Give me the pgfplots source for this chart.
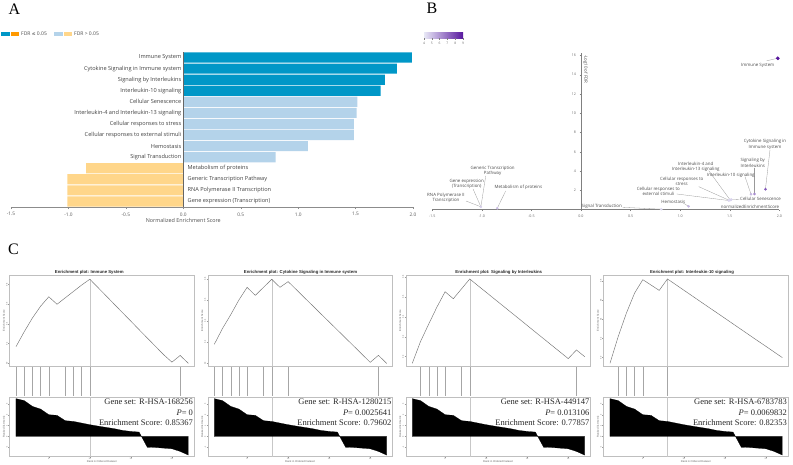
\documentclass[border=0pt]{standalone}
\usepackage{pgfplots}
\pgfplotsset{compat=1.18}
\usepackage{pgfplotstable}
\usepackage{fontspec}
\setmainfont{Liberation Serif}
\newfontfamily\osans{Open Sans}
\newfontfamily\lsans{Liberation Sans}
\newfontfamily\dv{DejaVu Sans}
\newcommand\fs[1]{\fontsize{#1}{#1}\selectfont}
\definecolor{dblue}{RGB}{0,151,199}
\definecolor{lblue}{RGB}{180,211,234}
\definecolor{lorange}{RGB}{255,214,138}
\definecolor{dorange}{RGB}{255,153,0}
\definecolor{cbl}{RGB}{232,232,246}
\definecolor{cbr}{RGB}{88,24,158}

\pgfplotstableread{
rank metric
1 3.48
2 3.30
3 2.77
4 2.52
5 2.00
6 1.94
7 1.45
8 1.38
9 1.23
10 1.08
11 0.95
12 0.83
13 0.71
14 0.55
15 0.46
16 0.40
17 -1.00
18 -1.02
19 -1.08
20 -1.14
21 -1.38
22 -1.72
}\metrictab

\pgfplotstableread{
x y m
1.985 15.7 9
1.86 2.12 7.4
1.75 1.63 6.2
1.715 1.60 5.2
1.515 1.05 4.5
1.51 1.00 4.5
1.495 0.97 4.4
1.49 0.95 4.4
1.085 0.35 5.2
0.81 0.05 4.3
-0.845 0.15 5.0
-1.01 0.30 4.6
}\btab

\pgfplotsset{
 gseabase/.style={at={(0,0)}, anchor=south west, scale only axis, width=184.7pt, xmin=0.2, xmax=22.7,
   axis line style={black!25, line width=0.4pt}, tick style={black!40, line width=0.3pt},
   major tick length=1pt, tick align=outside,
   tick label style={font=\lsans\fs{2.2}, text=black!55, inner sep=0.5pt},
   label style={font=\lsans\fs{2.7}, text=black!60, inner sep=0.6pt},
   /pgf/number format/assume math mode=true},
 gseatop/.style={gseabase, height=90.7pt, xtick=\empty, ytick={0,0.2,0.4,0.6,0.8},
   yticklabel style={rotate=90, anchor=south, /pgf/number format/.cd, fixed, fixed zerofill, precision=1},
   ylabel={Enrichment Score}, ytick pos=left},
 gseamid/.style={gseabase, height=28.4pt, ymin=0, ymax=1, hide axis},
 gseabot/.style={gseabase, height=59.5pt, ymin=-1.85, ymax=3.63, xtick={5,10,15,20}, ytick={-1,0,1,2,3},
   yticklabel style={rotate=90, anchor=south}, ylabel={Ranked list metric},
   xlabel={Rank in Ordered Dataset}, xtick pos=bottom, ytick pos=left,
   xlabel style={at={(rel axis cs:0.5,0)}, anchor=north, yshift=-3.6pt}},
}

% #1 xleft, #2 title x, #3 title, #4 ES coords, #5 hits, #6 peak rank, #7 peak ES, #8 ymin, #9 ymax
\newcommand\gsea[9]{%
 \node[font=\lsans\bfseries\fs{4.3}, text=black!85] at (#2,192) {#3};
 \begin{scope}[shift={(#1,98)}]
 \begin{axis}[gseatop, ymin=#8, ymax=#9]
  \addplot[black!22, line width=0.4pt] coordinates {(#6,#8) (#6,#7)};
  \addplot[black!55, line width=0.45pt] coordinates {#4};
 \end{axis}
 \end{scope}
 \begin{scope}[shift={(#1,68.3)}]
 \begin{axis}[gseamid]
  \addplot[ycomb, black!35, line width=0.35pt, mark=none] coordinates {#5};
 \end{axis}
 \end{scope}
 \begin{scope}[shift={(#1,7.5)}]
 \begin{axis}[gseabot]
  \addplot[black!22, line width=0.4pt] coordinates {(#6,-1.85) (#6,3.63)};
  \addplot[fill=black, draw=black, line width=0.2pt] table[x=rank, y=metric] {\metrictab} \closedcycle;
  \node[anchor=east, font=\fs{8.5}, text=black!85, inner sep=0] at (rel axis cs:0.995,0.915) {Gene set: \gset};
  \node[anchor=east, font=\fs{8.5}, text=black!85, inner sep=0] at (rel axis cs:0.995,0.742) {\textit{P}= \gp};
  \node[anchor=east, font=\fs{8.5}, text=black!85, inner sep=0] at (rel axis cs:0.995,0.572) {Enrichment Score: \ges};
 \end{axis}
 \end{scope}}

\begin{document}
\begin{tikzpicture}[x=1pt,y=1pt]

\node[font=\fs{16}] at (14.5,455) {A};
\node[font=\fs{16}] at (432,455.5) {B};
\node[font=\fs{16}] at (13.5,215) {C};

% ---------- Panel A ----------
\fill[dblue] (0.7,427.9) rectangle (10,432.2);
\fill[dorange] (10.7,427.9) rectangle (19.3,432.2);
\node[anchor=west, font=\osans\fs{5}, text=black!70, inner sep=0] at (21,430) {FDR {\dv\fs{4.6}≤} 0.05};
\fill[lblue] (54.3,427.9) rectangle (63.3,432.2);
\fill[lorange] (63.6,427.9) rectangle (72.3,432.2);
\node[anchor=west, font=\osans\fs{5}, text=black!70, inner sep=0] at (74,430) {FDR > 0.05};

\begin{scope}[shift={(11,257)}]
\begin{axis}[at={(0,0)}, anchor=south west, scale only axis, width=402pt, height=155pt,
  xmin=-1.5, xmax=2, ymin=0.5, ymax=14.5,
  axis x line*=bottom, axis y line=none, xbar, bar width=10.2pt,
  xtick={-1.5,-1,-0.5,0,0.5,1,1.5,2}, ytick=\empty,
  /pgf/number format/assume math mode=true,
  xticklabel style={/pgf/number format/.cd, fixed, fixed zerofill, precision=1, /tikz/.cd, font=\osans\fs{4.8}, text=black!65},
  axis line style={black!45, line width=0.4pt}, tick style={black!45, line width=0.4pt},
  major tick length=2pt, tick align=outside, clip=false]
 \addplot[fill=dblue, draw=none, bar shift=0pt] coordinates {(1.99,14) (1.86,13) (1.755,12) (1.718,11)};
 \addplot[fill=lblue, draw=none, bar shift=0pt] coordinates {(1.515,10) (1.51,9) (1.485,8) (1.485,7) (1.085,6) (0.805,5)};
 \addplot[fill=lorange, draw=none, bar shift=0pt] coordinates {(-0.845,4) (-1.01,3) (-1.01,2) (-1.01,1)};
 \draw[black!60, line width=0.4pt] (axis cs:0,0.5) -- (axis cs:0,14.5);
 \begin{scope}[every node/.style={font=\osans\fs{5.6}, text=black!75, inner sep=0}]
 \node[anchor=east, xshift=-1.8pt] at (axis cs:0,14) {Immune System};
 \node[anchor=east, xshift=-1.8pt] at (axis cs:0,13) {Cytokine Signaling in Immune system};
 \node[anchor=east, xshift=-1.8pt] at (axis cs:0,12) {Signaling by Interleukins};
 \node[anchor=east, xshift=-1.8pt] at (axis cs:0,11) {Interleukin-10 signaling};
 \node[anchor=east, xshift=-1.8pt] at (axis cs:0,10) {Cellular Senescence};
 \node[anchor=east, xshift=-1.8pt] at (axis cs:0,9) {Interleukin-4 and Interleukin-13 signaling};
 \node[anchor=east, xshift=-1.8pt] at (axis cs:0,8) {Cellular responses to stress};
 \node[anchor=east, xshift=-1.8pt] at (axis cs:0,7) {Cellular responses to external stimuli};
 \node[anchor=east, xshift=-1.8pt] at (axis cs:0,6) {Hemostasis};
 \node[anchor=east, xshift=-1.8pt] at (axis cs:0,5) {Signal Transduction};
 \node[anchor=west, xshift=4.2pt] at (axis cs:0,4) {Metabolism of proteins};
 \node[anchor=west, xshift=4.2pt] at (axis cs:0,3) {Generic Transcription Pathway};
 \node[anchor=west, xshift=4.2pt] at (axis cs:0,2) {RNA Polymerase II Transcription};
 \node[anchor=west, xshift=4.2pt] at (axis cs:0,1) {Gene expression (Transcription)};
 \end{scope}
 \node[font=\osans\fs{5.4}, text=black!70, yshift=-13pt] at (axis cs:0,0.5) {Normalized Enrichment Score};
\end{axis}
\end{scope}

% ---------- Panel B ----------
\shade[left color=cbl, right color=cbr] (424,425.7) rectangle (463,431.7);
\foreach \v [count=\i from 0] in {4,...,9} {
  \draw[black!50, line width=0.3pt] ({424+\i*7.8},425.7) -- ({424+\i*7.8},424.2);
  \node[font=\osans\fs{3.3}, text=black!60, inner sep=0] at ({424+\i*7.8},420.2) {\v};
}

\begin{scope}[shift={(432.3,254.3)}]
\begin{axis}[at={(0,0)}, anchor=south west, scale only axis, width=347pt, height=156.7pt,
  xmin=-1.5, xmax=2, ymin=0, ymax=16.25,
  axis x line=bottom, axis y line=middle, hide obscured x ticks=false,
  every inner x axis line/.append style={-}, every inner y axis line/.append style={-},
  every outer x axis line/.append style={-}, axis line style={black!50, line width=0.4pt},
  xtick={-1.5,-1,-0.5,0,0.5,1,1.5,2}, ytick={2,4,6,8,10,12,14,16},
  /pgf/number format/assume math mode=true,
  tick label style={font=\osans\fs{3.6}, text=black!60},
  xticklabel style={/pgf/number format/.cd, fixed, fixed zerofill, precision=1},
  tick style={black!50, line width=0.3pt}, major tick length=1.5pt, tick align=outside,
  colormap={purp}{rgb255=(232,232,246) rgb255=(88,24,158)}, point meta min=4, point meta max=9,
  clip=false]
 \begin{scope}[black!40, line width=0.3pt]
 \draw (axis cs:1.98,15.7) -- (axis cs:1.873,15.44);
 \draw (axis cs:1.906,6.2) -- (axis cs:1.86,2.12);
 \draw (axis cs:1.75,4.36) -- (axis cs:1.75,1.63);
 \draw (axis cs:1.654,3.43) -- (axis cs:1.715,1.6);
 \draw (axis cs:1.288,4.05) -- (axis cs:1.505,1.0);
 \draw (axis cs:1.187,2.39) -- (axis cs:1.495,0.97);
 \draw (axis cs:0.965,1.63) -- (axis cs:1.49,0.95);
 \draw (axis cs:1.515,1.05) -- (axis cs:1.598,1.08);
 \draw (axis cs:1.03,0.7) -- (axis cs:1.085,0.35);
 \draw (axis cs:0.42,0.25) -- (axis cs:0.81,0.05);
 \draw (axis cs:-0.76,1.94) -- (axis cs:-0.845,0.15);
 \draw (axis cs:-0.961,3.5) -- (axis cs:-1.01,0.3);
 \draw (axis cs:-1.089,2.15) -- (axis cs:-1.01,0.3);
 \draw (axis cs:-1.16,0.9) -- (axis cs:-1.01,0.3);
 \end{scope}
 \addplot[scatter, only marks, mark=*, mark size=1.1pt, point meta=explicit,
   scatter/use mapped color={draw=mapped color, fill=mapped color}]
   table[x=x, y=y, meta=m] {\btab};
 \addplot[scatter, only marks, mark=*, mark size=1.6pt, point meta=explicit,
   scatter/use mapped color={draw=mapped color, fill=mapped color}]
   coordinates {(1.985,15.7) [9]};
 \begin{scope}[every node/.style={font=\osans\fontsize{4.4}{5.2}\selectfont, text=black!70, inner sep=0, align=center}]
 \node at (axis cs:1.782,14.95) {Immune System};
 \node at (axis cs:1.856,6.77) {Cytokine Signaling in\\Immune system};
 \node at (axis cs:1.732,4.85) {Signaling by\\Interleukins};
 \node at (axis cs:1.51,3.57) {Interleukin-10 signaling};
 \node at (axis cs:1.157,4.47) {Interleukin-4 and\\Interleukin-13 signaling};
 \node at (axis cs:1.016,2.91) {Cellular responses to\\stress};
 \node at (axis cs:0.78,1.87) {Cellular responses to\\external stimuli};
 \node[anchor=west] at (axis cs:1.604,1.08) {Cellular Senescence};
 \node at (axis cs:0.931,0.8) {Hemostasis};
 \node at (axis cs:0.209,0.31) {Signal Transduction};
 \node at (axis cs:-0.632,2.36) {Metabolism of proteins};
 \node at (axis cs:-0.891,4.0) {Generic Transcription\\Pathway};
 \node at (axis cs:-1.153,2.67) {Gene expression\\(Transcription)};
 \node at (axis cs:-1.362,1.21) {RNA Polymerase II\\Transcription};
 \node[anchor=south east, yshift=1.2pt] at (axis cs:2.0,0) {normalizedEnrichmentScore};
 \node[rotate=-90, anchor=west] at (axis cs:0.045,16.06) {-Log10 of FDR};
 \end{scope}
\end{axis}
\end{scope}

% ---------- Panel C ----------
\def\gset{R-HSA-168256}\def\gp{0}\def\ges{0.85367}
\gsea{9.4}{89.3}{Enrichment plot: Immune System}
 {(1,0.169)(2,0.32)(3,0.46)(4,0.58)(5,0.676)(6,0.60)(7,0.665)(8,0.73)(9,0.795)(10,0.854)(11,0.769)(12,0.684)(13,0.598)(14,0.513)(15,0.428)(16,0.342)(17,0.257)(18,0.172)(19,0.087)(20,0.012)(21,0.08)(22,0)}
 {(1,1)(2,1)(3,1)(4,1)(5,1)(7,1)(8,1)(9,1)(10,1)(21,1)}
 {10}{0.854}{-0.027}{0.894}

\def\gset{R-HSA-1280215}\def\gp{0.0025641}\def\ges{0.79602}
\gsea{207.7}{300.5}{Enrichment plot: Cytokine Signaling in Immune system}
 {(1,0.18)(2,0.33)(3,0.46)(4,0.60)(5,0.72)(6,0.644)(7,0.72)(8,0.796)(9,0.72)(10,0.774)(11,0.698)(12,0.621)(13,0.545)(14,0.468)(15,0.392)(16,0.316)(17,0.239)(18,0.163)(19,0.086)(20,0.01)(21,0.076)(22,0)}
 {(1,1)(2,1)(3,1)(4,1)(5,1)(7,1)(8,1)(10,1)(21,1)}
 {8}{0.796}{-0.025}{0.834}

\def\gset{R-HSA-449147}\def\gp{0.013106}\def\ges{0.77857}
\gsea{405.7}{498.8}{Enrichment plot: Signaling by Interleukins}
 {(1,-0.067)(2,0.151)(3,0.326)(4,0.497)(5,0.651)(6,0.581)(7,0.68)(8,0.779)(9,0.712)(10,0.646)(11,0.579)(12,0.513)(13,0.446)(14,0.38)(15,0.313)(16,0.246)(17,0.18)(18,0.113)(19,0.047)(20,-0.02)(21,0.067)(22,0)}
 {(2,1)(3,1)(4,1)(5,1)(7,1)(8,1)(21,1)}
 {8}{0.779}{-0.094}{0.816}

\def\gset{R-HSA-6783783}\def\gp{0.0069832}\def\ges{0.82353}
\gsea{603.4}{692}{Enrichment plot: Interleukin-10 signaling}
 {(1,-0.06)(2,0.22)(3,0.466)(4,0.676)(5,0.816)(6,0.76)(7,0.704)(8,0.8235)(9,0.765)(10,0.706)(11,0.647)(12,0.588)(13,0.529)(14,0.471)(15,0.412)(16,0.353)(17,0.294)(18,0.235)(19,0.176)(20,0.118)(21,0.059)(22,0)}
 {(2,1)(3,1)(4,1)(5,1)(8,1)}
 {8}{0.8235}{-0.0876}{0.862}

\pgfresetboundingbox
\path (0,0) rectangle (793,464);
\end{tikzpicture}
\end{document}
